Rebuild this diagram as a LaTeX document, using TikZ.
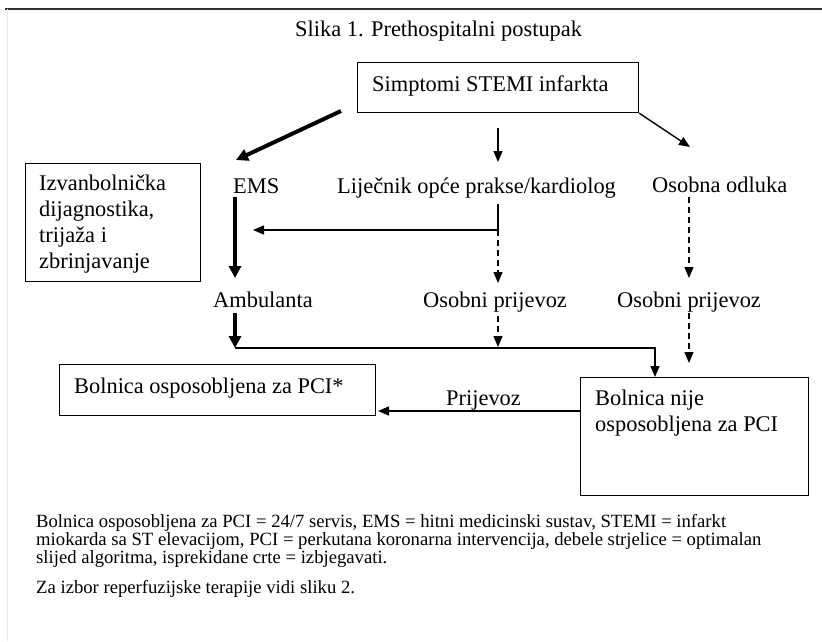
\documentclass[tikz,border=0pt]{standalone}
\usepackage{fontspec}
\setmainfont{Liberation Serif}
\usetikzlibrary{arrows.meta,calc}
\begin{document}
\begin{tikzpicture}[x=1pt,y=-1pt,
  box/.style={draw, line width=1.2pt, inner sep=0pt, anchor=north west},
  txt/.style={inner sep=0pt, anchor=base west, font=\fontsize{22.4}{26}\selectfont},
  foot/.style={inner sep=0pt, anchor=base west, font=\fontsize{18.67}{18}\selectfont},
  thinarrow/.style={line width=1.4pt, -{Triangle[length=11pt,width=9pt]}},
  thickarrow/.style={line width=4pt, -{Triangle[length=12pt,width=12pt]}},
  dasharrow/.style={line width=1.4pt, dash pattern=on 6pt off 4pt, -{Triangle[length=11pt,width=9pt]}},
  plainline/.style={line width=1.4pt}
]
\useasboundingbox (0,0) rectangle (822,641);
% page frame
\draw[line width=2pt, black!80] (5,9) -- (822,9);
\draw[line width=1pt, black!8] (7,9) -- (7,641);

% boxes
\node[box, minimum width=281pt, minimum height=50pt] (simp) at (357,62) {};
\node[box, minimum width=175pt, minimum height=118pt] (izv) at (25,163) {};
\node[box, minimum width=316pt, minimum height=51pt] (pciyes) at (59,364) {};
\node[box, minimum width=228pt, minimum height=118pt] (pcino) at (580,377) {};

% texts
\node[txt] (title) at (295,36.7) {Slika 1. Prethospitalni postupak};
\node[txt] (simpt) at (372,91) {Simptomi STEMI infarkta};
\node[txt] (izvt) at (39,190) {\vtop{\baselineskip=26pt\hbox{Izvanbolnička}\hbox{dijagnostika,}\hbox{trijaža i}\hbox{zbrinjavanje}}};
\node[txt] (ems) at (233,193) {EMS};
\node[txt] (lij) at (337,193) {Liječnik opće prakse/kardiolog};
\node[txt] (odl) at (652,192) {Osobna odluka};
\node[txt] (amb) at (213,307) {Ambulanta};
\node[txt] (opa) at (423,307) {Osobni prijevoz};
\node[txt] (opb) at (617,307) {Osobni prijevoz};
\node[txt] (prij) at (446,405) {Prijevoz};
\node[txt] (pciyest) at (74,393) {Bolnica osposobljena za PCI*};
\node[txt] (pcinot) at (595,405) {\vtop{\baselineskip=26pt\hbox{Bolnica nije}\hbox{osposobljena za PCI}}};

% footer
\node[foot] (legend) at (36,527) {\vtop{\baselineskip=18pt
  \hbox{Bolnica osposobljena za PCI = 24/7 servis, EMS = hitni medicinski sustav, STEMI = infarkt}
  \hbox{miokarda sa ST elevacijom, PCI = perkutana koronarna intervencija, debele strjelice = optimalan}
  \hbox{slijed algoritma, isprekidane crte = izbjegavati.}}};
\node[foot] (note) at (36,593) {Za izbor reperfuzijske terapije vidi sliku 2.};

% connector points
\coordinate (s1) at (341,111);
\coordinate (emsin) at (236,160);
\coordinate (s2) at (498,128);
\coordinate (lijin) at (498,162);
\coordinate (s3) at (simp.south east);
\coordinate (odlin) at (690,147);
\coordinate (emsout) at (235,197);
\coordinate (ambin) at (235,278);
\coordinate (lijout) at (498,204);
\coordinate (lj) at (498,230);
\coordinate (emsside) at (253,230);
\coordinate (opain) at (498,283);
\coordinate (odlout) at (689,197);
\coordinate (opbin) at (689,278);
\coordinate (ambout) at (235,313);
\coordinate (bus) at (235,348);
\coordinate (busr) at (655,348);
\coordinate (pcinoin) at ($(pcino.north west)+(75,0)$);
\coordinate (opaout) at (498,316);
\coordinate (opabus) at (498,347);
\coordinate (opbout) at (689,313);
\coordinate (opbend) at (689,363);
\coordinate (pcinoout) at (580,411);
\coordinate (pciyesin) at (378,411);

% connectors
\draw[thickarrow] (s1) -- (emsin);
\draw[thinarrow] (s2) -- (lijin);
\draw[thinarrow] (s3) -- (odlin);
\draw[thickarrow] (emsout) -- (ambin);
\draw[thinarrow] (lijout) -- (lj) -- (emsside);
\draw[dasharrow] (lj) -- (opain);
\draw[dasharrow] (odlout) -- (opbin);
\draw[thickarrow] (ambout) -- (bus);
\draw[thinarrow] (bus) -- (busr) -- (pcinoin);
\draw[dasharrow] (opaout) -- (opabus);
\draw[dasharrow] (opbout) -- (opbend);
\draw[thinarrow] (pcinoout) -- (pciyesin);
\end{tikzpicture}
\end{document}
